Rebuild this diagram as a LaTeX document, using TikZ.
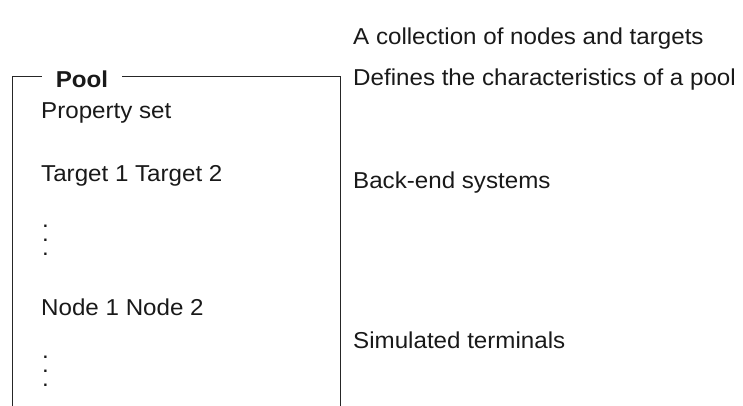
\documentclass[tikz,border=0pt]{standalone}
\usepackage{fontspec}
\setmainfont[FakeStretch=1.05]{Liberation Sans}
\begin{document}
\begin{tikzpicture}[x=1pt, y=-1pt, every node/.style={inner sep=0pt, font=\fontsize{23}{27}\selectfont}]
    \tikzstyle{lbl}=[anchor=base west, text=black!90]
    \tikzstyle{vdots}=[lbl, align=left, font=\fontsize{23}{13.8}\selectfont]
    \tikzstyle{frm}=[line width=1pt, black!85]
    \useasboundingbox (0,0) rectangle (743,406);

    % pool frame, open at the bottom
    \draw[frm] (12,406) -- (12,77) -- (340,77) -- (340,406);
    \node[fill=white, inner xsep=14pt, inner ysep=2pt, anchor=base, text=black!90,
          font=\fontsize{23}{27}\selectfont\bfseries] (pool) at (82,88) {Pool};

    % inside the pool
    \node[lbl] (props) at (41,119) {Property set};
    \node[lbl] (targets) at (41,182) {Target 1 Target 2};
    \node[vdots] (tdots) at (42,255) {.\\.\\.};
    \node[lbl] (nodes) at (41,315) {Node 1 Node 2};
    \node[vdots] (ndots) at (42,386) {.\\.\\.};

    % notes on the right
    \node[lbl] (collection) at (353,45) {A collection of nodes and targets};
    \node[lbl] (defines) at (353,86) {Defines the characteristics of a pool};
    \node[lbl] (backend) at (353,188) {Back-end systems};
    \node[lbl] (simulated) at (353,348) {Simulated terminals};
\end{tikzpicture}
\end{document}
